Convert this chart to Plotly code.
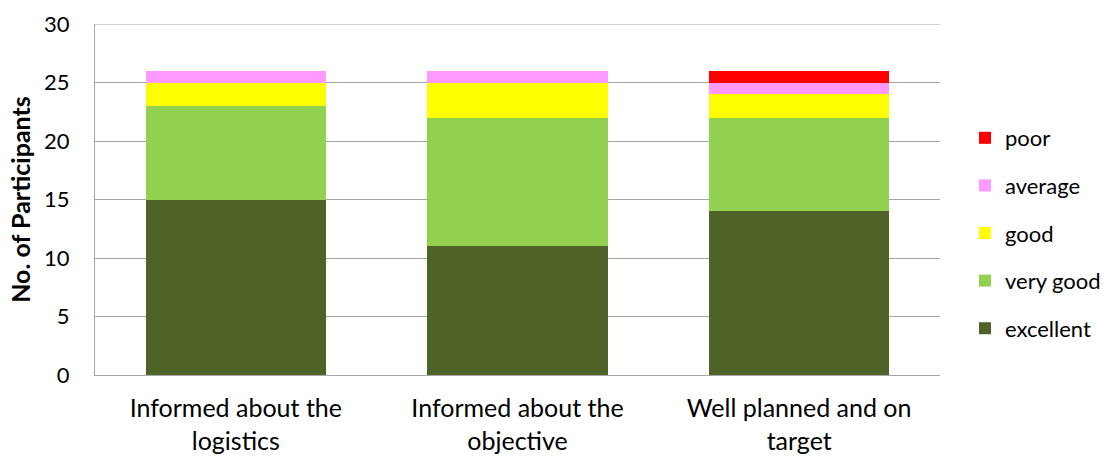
import plotly.graph_objects as go

categories = ["Informed about the<br>logistics", "Informed about the<br>objective", "Well planned and on<br>target"]
excellent = [15, 11, 14]
very_good = [8, 11, 8]
good = [2, 3, 2]
average = [1, 1, 1]
poor = [0, 0, 1]

series = [
    ("excellent", excellent, "#4F6228"),
    ("very good", very_good, "#92D050"),
    ("good", good, "#FFFF00"),
    ("average", average, "#FF99FF"),
    ("poor", poor, "#FF0000"),
]

FONT = "Lato, 'Open Sans', sans-serif"

fig = go.Figure()
for rank, (name, vals, color) in enumerate(series):
    fig.add_trace(go.Bar(
        x=categories, y=vals, name=name, marker_color=color,
        marker_line_width=0, legendgroup=name, legendrank=100 - rank,
    ))

fig.update_layout(
    barmode="stack",
    bargap=0.36,
    width=1114, height=458,
    margin=dict(l=95, r=174, t=24, b=83),
    plot_bgcolor="white", paper_bgcolor="white",
    font=dict(family=FONT, size=22, color="#000000"),
    legend=dict(
        traceorder="grouped", tracegroupgap=16,
        xref="container", yref="container",
        x=965 / 1114, y=(458 - 117) / 458, xanchor="left", yanchor="top",
        font=dict(size=22), itemwidth=30, maxheight=420,
    ),
    yaxis=dict(
        range=[0, 30], dtick=5, showgrid=True, gridcolor="#A6A6A6", gridwidth=1,
        showline=True, linecolor="#A6A6A6", linewidth=1, ticks="",
        ticklabelstandoff=20, automargin=False,
        title=dict(text="<b>No. of Participants</b>", font=dict(size=25), standoff=6),
        tickfont=dict(size=22), zeroline=False,
    ),
    xaxis=dict(
        showline=True, linecolor="#A6A6A6", linewidth=1, ticks="",
        tickfont=dict(size=25), ticklabelstandoff=11, automargin=False,
    ),
    shapes=[dict(type="line", xref="paper", yref="y", x0=0, x1=1, y0=30, y1=30,
                 line=dict(color="#A6A6A6", width=1))],
)

fig.write_html("out.html")
